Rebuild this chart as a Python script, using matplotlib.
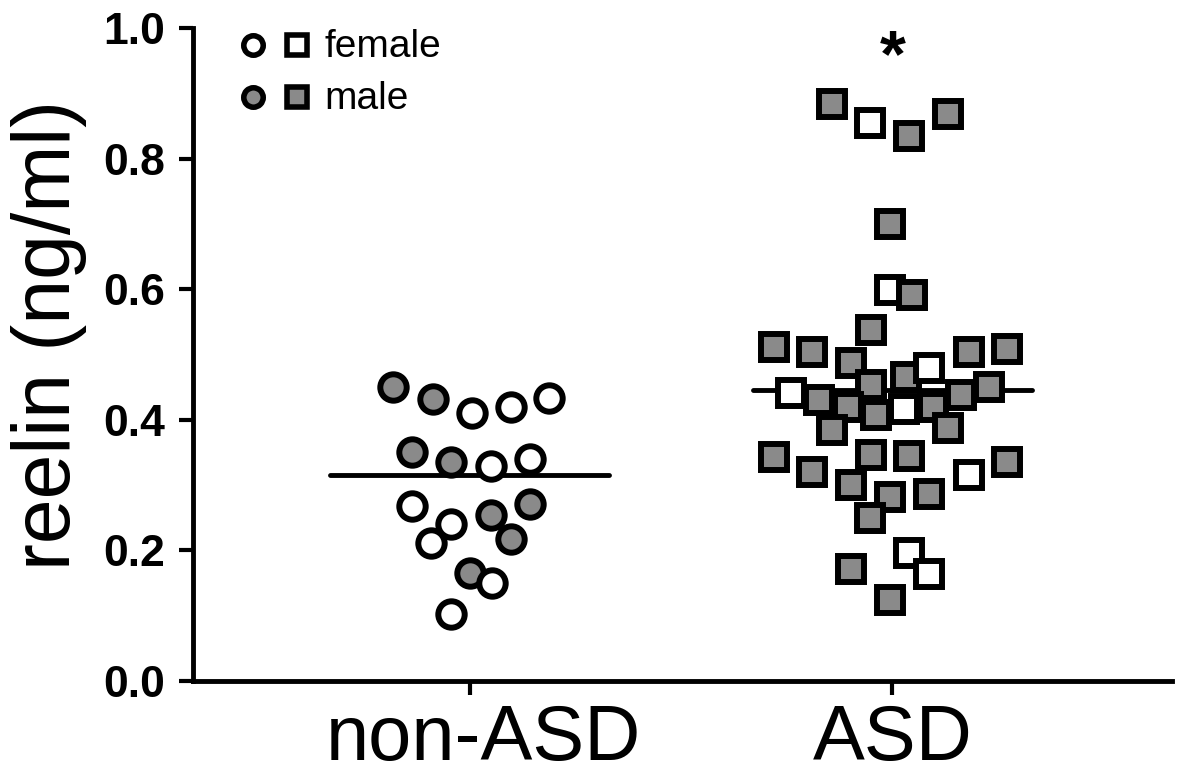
import matplotlib
matplotlib.use("Agg")
import matplotlib.pyplot as plt
import matplotlib.transforms as mtransforms

plt.rcParams['font.family'] = ['Liberation Sans', 'DejaVu Sans']

grupos = ["non-ASD", "ASD"]

# reelin (ng/ml), desplazamiento horizontal (jitter) y sexo de cada sujeto
non_asd_vals = [0.450, 0.432, 0.410, 0.420, 0.433, 0.351, 0.335, 0.329, 0.340,
                0.268, 0.240, 0.211, 0.254, 0.271, 0.217, 0.165, 0.150, 0.103]
non_asd_jit = [-0.182, -0.087, 0.005, 0.097, 0.189, -0.135, -0.043, 0.050, 0.142,
               -0.135, -0.043, -0.090, 0.050, 0.142, 0.097, 0.002, 0.052, -0.043]
non_asd_sexo = ["M", "M", "F", "F", "F", "M", "M", "F", "F",
                "F", "F", "F", "M", "M", "M", "M", "F", "F"]

asd_vals = [0.884, 0.855, 0.835, 0.868, 0.700, 0.599, 0.591, 0.538,
            0.511, 0.504, 0.487, 0.504, 0.508, 0.453, 0.466, 0.479,
            0.441, 0.430, 0.420, 0.407, 0.417, 0.420, 0.438, 0.450,
            0.384, 0.387, 0.343, 0.320, 0.346, 0.345, 0.315, 0.335,
            0.300, 0.282, 0.286, 0.250, 0.196, 0.172, 0.164, 0.124]
asd_jit = [-0.144, -0.052, 0.040, 0.132, -0.005, -0.005, 0.047, -0.050,
           -0.281, -0.191, -0.099, 0.180, 0.272, -0.050, 0.033, 0.087,
           -0.239, -0.173, -0.106, -0.038, 0.028, 0.095, 0.163, 0.229,
           -0.142, 0.132, -0.281, -0.191, -0.050, 0.040, 0.180, 0.270,
           -0.097, -0.005, 0.087, -0.052, 0.040, -0.097, 0.087, -0.005]
asd_sexo = ["M", "F", "M", "M", "M", "F", "M", "M",
            "M", "M", "M", "M", "M", "M", "M", "F",
            "F", "M", "M", "M", "F", "M", "M", "M",
            "M", "M", "M", "M", "M", "M", "F", "M",
            "M", "M", "M", "M", "F", "M", "F", "M"]

promedios = [0.315, 0.446]

gris = '#8a8a8a'
fig = plt.figure(figsize=(11.81, 7.78), dpi=100)
ax = fig.add_axes([0.163, 0.1247, 0.829, 0.839])

# lineas de promedio (debajo de los puntos)
for i, m in enumerate(promedios):
    ax.plot([i - 0.33, i + 0.33], [m, m], color='black', lw=3.5, solid_capstyle='round', zorder=2)

def dibujar_grupo(pos, vals, jit, sexo, marcador):
    for v, j, s in zip(vals, jit, sexo):
        color = gris if s == "M" else 'white'
        ax.plot(pos + j, v, marker=marcador, ms=19, mfc=color, mec='black', mew=4.3,
                linestyle='none', zorder=3)

dibujar_grupo(0, non_asd_vals, non_asd_jit, non_asd_sexo, 'o')
dibujar_grupo(1, asd_vals, asd_jit, asd_sexo, 's')

ax.text(1, 0.905, '*', ha='center', va='bottom', fontsize=48, fontweight='bold')

# leyenda manual
for fila, (s, etiqueta) in enumerate([("F", "female"), ("M", "male")]):
    yy = 0.974 - fila * 0.08
    color = gris if s == "M" else 'white'
    ax.plot(0.0613, yy, marker='o', ms=14, mfc=color, mec='black', mew=4,
            transform=ax.transAxes, clip_on=False)
    ax.plot(0.107, yy, marker='s', ms=14, mfc=color, mec='black', mew=4,
            transform=ax.transAxes, clip_on=False)
    ax.text(0.135, yy - 0.003, etiqueta, transform=ax.transAxes, ha='left', va='center', fontsize=28)

ax.set_xlim(-0.655, 1.66)
ax.set_ylim(0, 1.0)
ax.set_xticks([0, 1])
ax.set_xticklabels(grupos, fontsize=56)
ax.set_yticks([0.0, 0.2, 0.4, 0.6, 0.8, 1.0])
ax.set_yticklabels(['0.0', '0.2', '0.4', '0.6', '0.8', '1.0'], fontsize=32, fontweight='bold')
ax.tick_params(axis='both', width=3, length=10, direction='out')
ax.tick_params(axis='y', pad=10)
ax.tick_params(axis='x', pad=6)
# la etiqueta non-ASD aparece algo corrida a la derecha en el original
lab0 = ax.get_xticklabels()[0]
lab0.set_transform(lab0.get_transform() + mtransforms.ScaledTranslation(14 / 100, 0, fig.dpi_scale_trans))
for lado in ['top', 'right']:
    ax.spines[lado].set_visible(False)
for lado in ['left', 'bottom']:
    ax.spines[lado].set_linewidth(3.5)

ax.set_ylabel('reelin (ng/ml)', fontsize=58)
ax.yaxis.set_label_coords(-0.108, 0.53)

fig.savefig('out.png', dpi=100)
